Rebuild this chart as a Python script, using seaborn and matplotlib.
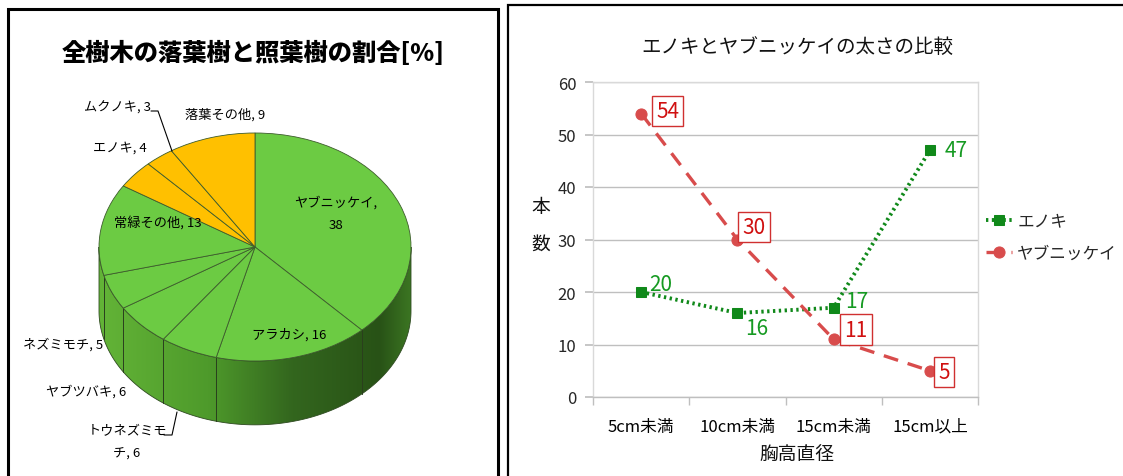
import numpy as np
import pandas as pd
import matplotlib
matplotlib.use('Agg')
import matplotlib.pyplot as plt
import seaborn as sns
from matplotlib.patches import Rectangle, Polygon
from matplotlib.colors import LinearSegmentedColormap

sns.set_theme(style='white')
JP = ['Noto Sans CJK JP', 'DejaVu Sans']
NARROW = ['Liberation Sans Narrow', 'Noto Sans CJK JP', 'DejaVu Sans']
plt.rcParams['font.family'] = JP

# ---------------- data ----------------
pie_labels = ['ヤブニッケイ', 'アラカシ', 'トウネズミモチ', 'ヤブツバキ', 'ネズミモチ',
              '常緑その他', 'エノキ', 'ムクノキ', '落葉その他']
pie_values = [38, 16, 6, 6, 5, 13, 4, 3, 9]
pie_kind = ['照葉樹', '照葉樹', '照葉樹', '照葉樹', '照葉樹', '照葉樹', '落葉樹', '落葉樹', '落葉樹']

size_classes = ['5cm未満', '10cm未満', '15cm未満', '15cm以上']
enoki_counts = [20, 16, 17, 47]
yabu_counts = [54, 30, 11, 5]
series_names = ['エノキ', 'ヤブニッケイ']
y_ticks = [0, 10, 20, 30, 40, 50, 60]

# ---------------- figure ----------------
W, H = 1123, 477
fig = plt.figure(figsize=(W / 100, H / 100), dpi=100)
fig.patch.set_facecolor('white')

def fx(px):
    return px / W

def fy(py):
    return 1 - py / H

# ---------------- left: 3D-like pie ----------------
cx, cy, rx, ry = 255, 248, 156, 114
depth = 0.56
L, R, T, B = 10, 496, 90, 476
ax_pie = fig.add_axes([fx(L), fy(B), (R - L) / W, (B - T) / H])

kind_color = {'照葉樹': '#6ccb43', '落葉樹': '#ffc000'}
colors = [kind_color[k] for k in pie_kind]
wedges, _ = ax_pie.pie(pie_values, colors=colors, startangle=90, counterclock=False,
                       radius=1, wedgeprops=dict(edgecolor='#3d5c2c', linewidth=0.6))

# side of the cylinder (front half)
t = np.linspace(np.pi, 2 * np.pi, 300)
top = np.column_stack([np.cos(t), np.sin(t)])
bot = np.column_stack([np.cos(t), np.sin(t) - depth])
side = Polygon(np.vstack([top, bot[::-1]]), closed=True, facecolor='none',
               edgecolor='#2e4a20', linewidth=0.6, zorder=0.6)
ax_pie.add_patch(side)
cmap = LinearSegmentedColormap.from_list(
    'side', [(0.0, '#63b437'), (0.35, '#4e9a2b'), (0.62, '#33661e'),
             (0.9, '#285216'), (1.0, '#3b7522')])
grad = np.linspace(0, 1, 256).reshape(1, -1)
im = ax_pie.imshow(grad, extent=(-1, 1, -1 - depth, 0), cmap=cmap, aspect='auto', zorder=0.5)
im.set_clip_path(side)
for w in wedges:
    for ang in (w.theta1, w.theta2):
        a = np.deg2rad(ang % 360)
        if np.pi < a < 2 * np.pi:
            ax_pie.plot([np.cos(a), np.cos(a)], [np.sin(a), np.sin(a) - depth],
                        color='#2a3f1e', lw=0.6, zorder=0.7)

ax_pie.set_aspect('auto')
ax_pie.set_xlim((L - cx) / rx, (R - cx) / rx)
ax_pie.set_ylim((cy - B) / ry, (cy - T) / ry)
ax_pie.axis('off')

# pie labels (positions in pixels)
label_pos = {
    'ヤブニッケイ': (336, 214), 'アラカシ': (289, 335), 'トウネズミモチ': (127, 443),
    'ヤブツバキ': (86, 392), 'ネズミモチ': (63, 345), '常緑その他': (158, 223),
    'エノキ': (120, 148), 'ムクノキ': (118, 108), '落葉その他': (225, 115)}
for name, val in zip(pie_labels, pie_values):
    if name == 'ヤブニッケイ':
        txt = f'{name},\n{val}'
    elif name == 'トウネズミモチ':
        txt = f'{name[:-1]}\n{name[-1]}, {val}'
    else:
        txt = f'{name}, {val}'
    px, py = label_pos[name]
    fig.text(fx(px), fy(py), txt, ha='center', va='center', fontsize=9.5,
             linespacing=2.0, family=NARROW, color='black')

# leader lines
for pts in ([(151, 112), (158, 112), (172, 152)], [(164, 436), (172, 436), (177, 413)]):
    xs_ = [fx(p[0]) for p in pts]
    ys_ = [fy(p[1]) for p in pts]
    fig.add_artist(plt.Line2D(xs_, ys_, color='black', lw=0.8, transform=fig.transFigure))

fig.text(fx(253), fy(53), '全樹木の落葉樹と照葉樹の割合[%]', ha='center', va='center',
         fontsize=17.5, fontweight='heavy', color='black')

# ---------------- right: line chart ----------------
ax = fig.add_axes([fx(593), fy(398), (978 - 593) / W, (398 - 83) / H])
green = '#10891a'
red = '#d84c4c'
xs = np.arange(len(size_classes))
df = pd.DataFrame({'x': np.concatenate([xs, xs]),
                   'y': enoki_counts + yabu_counts,
                   's': [series_names[0]] * 4 + [series_names[1]] * 4})

sns.lineplot(data=df[df.s == series_names[0]], x='x', y='y', ax=ax, color=green,
             marker='s', markersize=7.5, markeredgecolor=green, linewidth=2.8,
             label=series_names[0], zorder=3)
sns.lineplot(data=df[df.s == series_names[1]], x='x', y='y', ax=ax, color=red,
             marker='o', markersize=8, markeredgecolor=red, linewidth=2.4,
             label=series_names[1], zorder=3)
lines = ax.get_lines()
lines[0].set_linestyle((0, (0.6, 0.9)))
lines[1].set_linestyle((0, (4.5, 3)))

ax.set_xlim(-0.5, 3.5)
ax.set_ylim(0, 60)
ax.set_yticks(y_ticks)
ax.set_yticklabels([str(v) for v in y_ticks], family=NARROW, fontsize=12)
ax.set_xticks(xs)
ax.set_xticklabels(size_classes, family=NARROW, fontsize=12)
ax.set_xticks(np.arange(-0.5, 4, 1), minor=True)
ax.tick_params(axis='x', which='major', length=0, pad=15, colors='black')
ax.tick_params(axis='x', which='minor', length=6, color='#bfbfbf', bottom=True)
ax.tick_params(axis='y', which='major', length=6, color='#bfbfbf', left=True, pad=6)
ax.yaxis.grid(True, color='#bfbfbf', lw=1)
ax.set_axisbelow(True)
for sp in ax.spines.values():
    sp.set_color('#d9d9d9')
    sp.set_linewidth(1)
ax.spines['bottom'].set_color('#bfbfbf')
ax.set_xlabel('')
ax.set_ylabel('')

# data labels
e_off = [(14, 6), (14, -11), (17, 5), (19, 0)]
y_off = [(19, 2), (12, 9), (16, 7), (10, -1)]
for i, v in enumerate(enoki_counts):
    ax.annotate(str(v), (xs[i], v), xytext=e_off[i], textcoords='offset points',
                ha='center', va='center', color='#169a22', fontsize=15, family=NARROW,
                zorder=5)
for i, v in enumerate(yabu_counts):
    ax.annotate(str(v), (xs[i], v), xytext=y_off[i], textcoords='offset points',
                ha='center', va='center', color='#d01010', fontsize=15, family=NARROW,
                zorder=5,
                bbox=dict(boxstyle='square,pad=0.2', facecolor='white', edgecolor='#d03030', lw=1))

leg = ax.legend(loc='upper left', bbox_to_anchor=(1.02, 0.585), frameon=False,
                handlelength=1.6, fontsize=12, labelspacing=0.9, handletextpad=0.3,
                borderaxespad=0, borderpad=0)
for txt in leg.get_texts():
    txt.set_family(JP)

fig.text(fx(797), fy(47), 'エノキとヤブニッケイの太さの比較', ha='center', va='center',
         fontsize=14, color='#111111')
fig.text(fx(797), fy(455), '胸高直径', ha='center', va='center', fontsize=13.5, color='#111111')
fig.text(fx(541), fy(226), '本\n数', ha='center', va='center', fontsize=13.5,
         linespacing=2.0, color='#111111')

# panel borders
fig.add_artist(Rectangle((fx(8), fy(485)), (498 - 8) / W, (485 - 10) / H,
                         transform=fig.transFigure, fill=False, edgecolor='black', lw=2.2))
fig.add_artist(Rectangle((fx(508), fy(485)), (1140 - 508) / W, (485 - 6) / H,
                         transform=fig.transFigure, fill=False, edgecolor='black', lw=1.6))

fig.savefig('out.png', dpi=100)
